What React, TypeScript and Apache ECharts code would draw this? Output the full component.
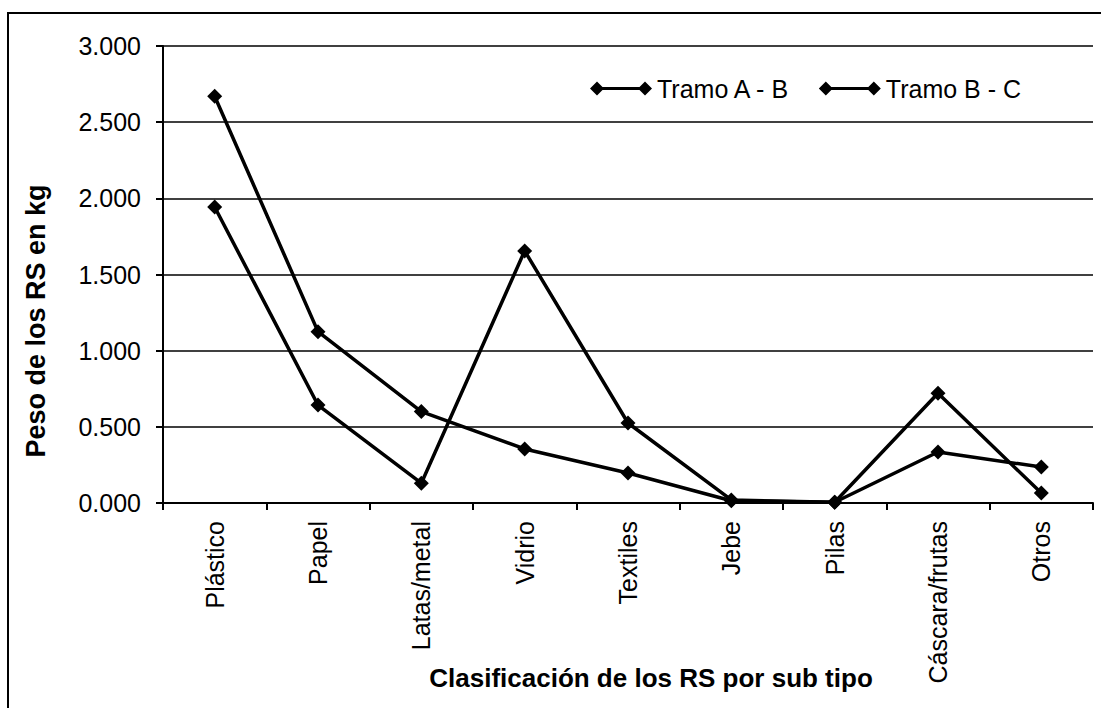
import React, { useEffect, useRef } from "react";
import * as echarts from "echarts";

const categories = ["Plástico", "Papel", "Latas/metal", "Vidrio", "Textiles", "Jebe", "Pilas", "Cáscara/frutas", "Otros"];
const seriesNames = ["Tramo A - B", "Tramo B - C"];
const tramoAB = [2.67, 1.125, 0.6, 0.355, 0.197, 0.015, 0.005, 0.335, 0.236];
const tramoBC = [1.943, 0.643, 0.13, 1.655, 0.525, 0.02, 0.005, 0.72, 0.065];
const yMin = 0;
const yMax = 3;
const yInterval = 0.5;
const yTitle = "Peso de los RS en kg";
const xTitle = "Clasificación de los RS por sub tipo";

const FONT = "'Liberation Sans', Arial, sans-serif";
const legendIcon = "path://M0,7 L7,0 L14,7 L7,14 Z M7,5.6 L55,5.6 L55,8.4 L7,8.4 Z M48,7 L55,0 L62,7 L55,14 Z";

export default function App() {
  const ref = useRef<HTMLDivElement>(null);
  useEffect(() => {
    if (!ref.current) return;
    const chart = echarts.init(ref.current, null, { renderer: "svg" });
    const mkSeries = (name: string, data: number[]) => ({
      name,
      type: "line",
      data,
      symbol: "diamond",
      symbolSize: 15,
      lineStyle: { color: "#000", width: 3.5 },
      itemStyle: { color: "#000" },
      emphasis: { disabled: true },
    });
    chart.setOption({
      animation: false,
      backgroundColor: "#fff",
      grid: { left: 163, right: 8, top: 46, bottom: 205, containLabel: false },
      legend: {
        left: 585,
        top: 71,
        itemWidth: 62,
        itemHeight: 14,
        itemGap: 28,
        icon: legendIcon,
        textStyle: { fontFamily: FONT, fontSize: 25, color: "#000" },
        data: seriesNames,
      },
      xAxis: {
        type: "category",
        data: categories,
        boundaryGap: true,
        axisLine: { lineStyle: { color: "#000", width: 2 } },
        axisTick: { show: true, length: 7, alignWithLabel: false, lineStyle: { color: "#000", width: 2 } },
        axisLabel: { rotate: 90, margin: 18, fontFamily: FONT, fontSize: 25, color: "#000", interval: 0 },
      },
      yAxis: {
        type: "value",
        min: yMin,
        max: yMax,
        interval: yInterval,
        axisLine: { show: true, lineStyle: { color: "#000", width: 2 } },
        axisTick: { show: true, length: 7, lineStyle: { color: "#000", width: 2 } },
        splitLine: { show: true, lineStyle: { color: "#000", width: 1.5 } },
        axisLabel: {
          margin: 22,
          fontFamily: FONT,
          fontSize: 25,
          color: "#000",
          formatter: (v: number) => v.toFixed(3),
        },
      },
      graphic: [
        {
          type: "rect",
          shape: { x: 8, y: 13, width: 1200, height: 800 },
          style: { fill: "none", stroke: "#000", lineWidth: 2 },
          silent: true,
        },
        {
          type: "text",
          x: 36,
          y: 321,
          rotation: Math.PI / 2,
          style: {
            text: yTitle,
            fontFamily: FONT,
            fontSize: 27,
            fontWeight: "bold",
            fill: "#000",
            align: "center",
            verticalAlign: "middle",
          },
        },
        {
          type: "text",
          x: 651,
          y: 678,
          style: {
            text: xTitle,
            fontFamily: FONT,
            fontSize: 26,
            fontWeight: "bold",
            fill: "#000",
            align: "center",
            verticalAlign: "middle",
          },
        },
      ],
      series: [mkSeries(seriesNames[0], tramoAB), mkSeries(seriesNames[1], tramoBC)],
    });
    return () => chart.dispose();
  }, []);
  return <div ref={ref} style={{ position: "fixed", left: 0, top: 0, width: 1101, height: 708 }} />;
}
